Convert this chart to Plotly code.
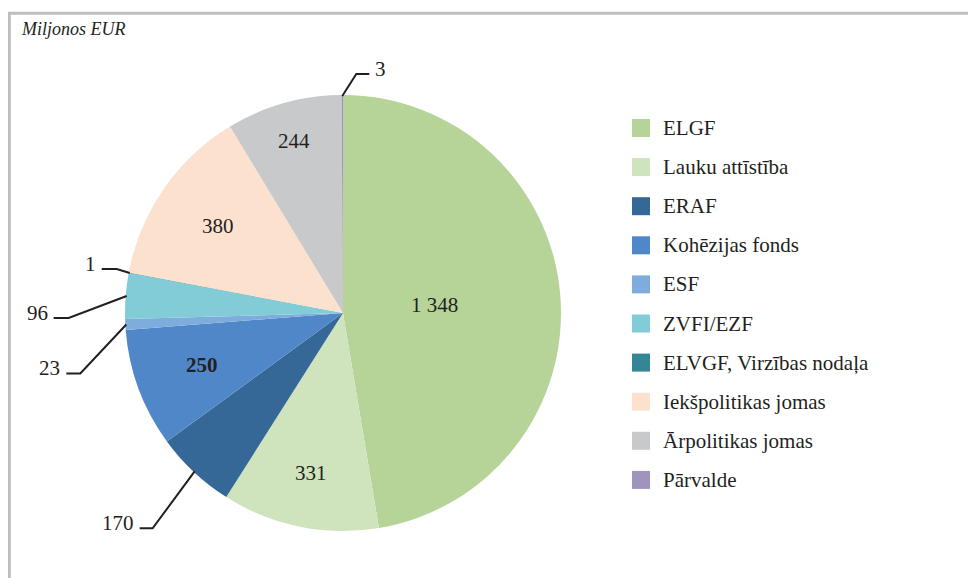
import math
import plotly.graph_objects as go

# ---- data ----
labels = ["ELGF", "Lauku attīstība", "ERAF", "Kohēzijas fonds", "ESF", "ZVFI/EZF",
          "ELVGF, Virzības nodaļa", "Iekšpolitikas jomas", "Ārpolitikas jomas", "Pārvalde"]
values = [1348, 331, 170, 250, 23, 96, 1, 380, 244, 3]
value_text = ["1 348", "331", "170", "250", "23", "96", "1", "380", "244", "3"]
unit_title = "Miljonos EUR"

# ---- style ----
colors = ["#b6d498", "#cfe3bc", "#366897", "#5087c8", "#7eacdc", "#82ccd8",
          "#348697", "#fde1cf", "#c8c9cb", "#a094be"]
FONT = "Liberation Serif"
TXT = "#231f20"
OFF = 8                      # page body margin
W, H = 976, 578              # figure size (extends past window edge, clipped)
CX, CY, R = 343, 313, 218    # in window pixels

# inside labels: radius fraction
inside = {0: 0.42, 1: 0.75, 3: 0.69, 7: 0.70, 8: 0.82}
bold = {3}
# outside labels: elbow offset (dx, dy) and horizontal run
outside = {2: (-42, 57, -13), 4: (-46, 49, -14), 5: (-58, 22, -15),
           6: (-13, -4, -15), 9: (14, -22, 13)}


def px(x, y):
    return (x - OFF) / W, 1 - (y - OFF) / H


def polar(theta, rr):
    t = math.radians(theta)
    return CX + rr * math.sin(t), CY - rr * math.cos(t)


total = sum(values)
mids = []
cum = 0
for v in values:
    mids.append((cum + v / 2) / total * 360)
    cum += v

d0 = px(CX - R, CY + R)
d1 = px(CX + R, CY - R)
fig = go.Figure(go.Pie(
    labels=labels, values=values, sort=False, direction="clockwise", rotation=0,
    marker=dict(colors=colors, line=dict(width=0)), textinfo="none",
    hoverinfo="label+value", showlegend=False,
    domain=dict(x=[d0[0], d1[0]], y=[d0[1], d1[1]]),
))

annotations = []
shapes = []


def ann(x, y, text, size=21, xa="center", ya="middle"):
    xp, yp = px(x, y)
    annotations.append(dict(x=xp, y=yp, xref="paper", yref="paper", text=text, showarrow=False,
                            xanchor=xa, yanchor=ya,
                            font=dict(family=FONT, size=size, color=TXT)))


for i, frac in inside.items():
    x, y = polar(mids[i], R * frac)
    t = value_text[i]
    if i in bold:
        t = "<b>" + t + "</b>"
    ann(x, y, t)

for i, (dx, dy, run) in outside.items():
    x0, y0 = polar(mids[i], R - 1)
    x1, y1 = x0 + dx, y0 + dy
    x2, y2 = x1 + run, y1
    p0, p1, p2 = px(x0, y0), px(x1, y1), px(x2, y2)
    shapes.append(dict(type="path", xref="paper", yref="paper",
                       path=f"M {p0[0]} {p0[1]} L {p1[0]} {p1[1]} L {p2[0]} {p2[1]}",
                       line=dict(color=TXT, width=2)))
    gap = 4 if run > 0 else -4
    ann(x2 + gap, y2 - 5, value_text[i], xa="left" if run > 0 else "right")

# legend (manual)
LX, LY0, STEP, SQ = 632, 128, 39.1, 18
for i, lab in enumerate(labels):
    yc = LY0 + i * STEP
    a0 = px(LX, yc - SQ / 2)
    a1 = px(LX + SQ, yc + SQ / 2)
    shapes.append(dict(type="rect", xref="paper", yref="paper", x0=a0[0], x1=a1[0],
                       y0=a1[1], y1=a0[1], fillcolor=colors[i], line=dict(width=0)))
    ann(LX + 29, yc, lab, xa="left")

# title
ann(19, 29, "<i>" + unit_title + "</i>", size=18, xa="left")

# frame
f0 = px(8, 13.3)
f1 = px(990, 13.3)
shapes.append(dict(type="line", xref="paper", yref="paper", x0=f0[0], y0=f0[1], x1=f1[0], y1=f1[1],
                   line=dict(color="#bcbec0", width=3)))
g0 = px(9.3, 12)
g1 = px(9.3, 590)
shapes.append(dict(type="line", xref="paper", yref="paper", x0=g0[0], y0=g0[1], x1=g1[0], y1=g1[1],
                   line=dict(color="#bcbec0", width=3)))

fig.update_layout(width=W, height=H, margin=dict(l=0, r=0, t=0, b=0),
                  paper_bgcolor="white", plot_bgcolor="white",
                  annotations=annotations, shapes=shapes, showlegend=False)
fig.write_html("out.html")
